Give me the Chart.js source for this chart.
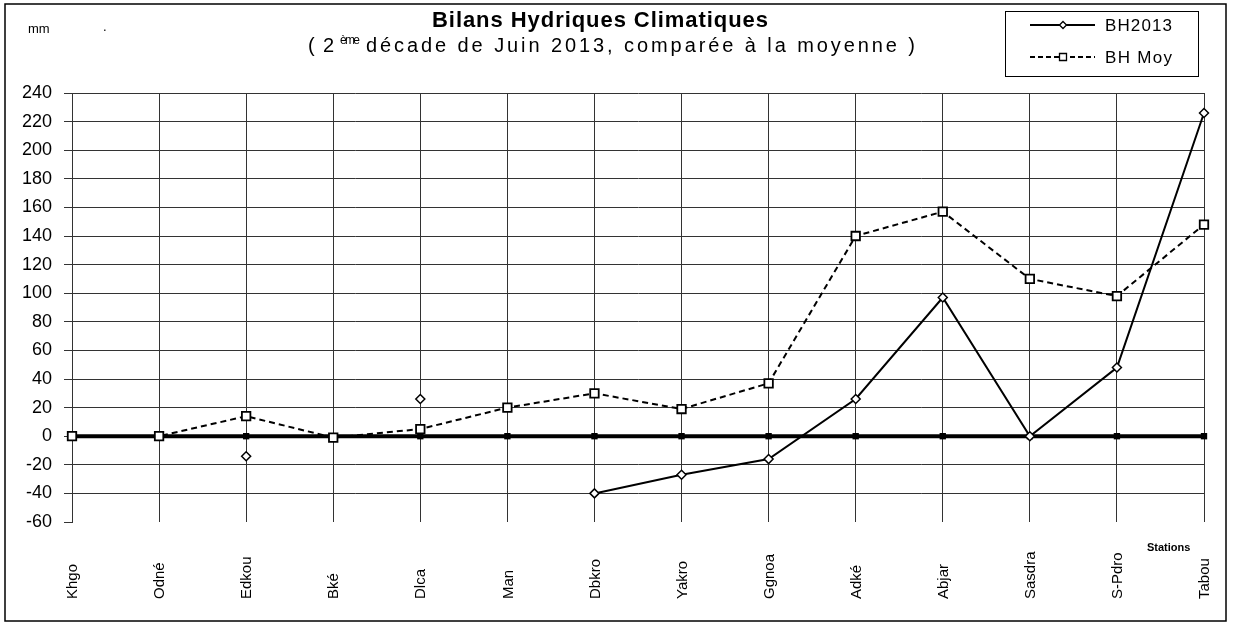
<!DOCTYPE html>
<html>
<head>
<meta charset="utf-8">
<script src="https://cdn.jsdelivr.net/npm/chart.js@4.4.1/dist/chart.umd.min.js"></script>
<style>
  html, body { margin: 0; padding: 0; background: #fff; }
  #wrap { width: 1233px; height: 624px; }
</style>
</head>
<body>
<div id="wrap"><canvas id="bh-chart" width="1233" height="624"></canvas></div>
<script>
// stations (abbreviations as printed on the chart)
const stations = ['Khgo', 'Odné', 'Edkou', 'Bké', 'Dlca', 'Man', 'Dbkro', 'Yakro', 'Ggnoa', 'Adké', 'Abjar', 'Sasdra', 'S-Pdro', 'Tabou'];

// bilan hydrique 2nd dekad June 2013 (mm), gaps where no point is plotted
const bh2013 = [null, null, -14, null, 26, null, -40, -27, -16, 26, 97, 0, 48, 226];

// average bilan hydrique (mm)
const bhMoy = [0, 0, 14, -1, 5, 20, 30, 19, 37, 140, 157, 110, 98, 148];

// zero reference line
const baseline = [0, 0, 0, 0, 0, 0, 0, 0, 0, 0, 0, 0, 0, 0];

const yTicks = { min: -60, max: 240, step: 20 };

const FONT = '"Liberation Sans", Arial, sans-serif';

// draw text stretched to a given width (the original has wide GDI spacing)
function fitText(ctx, txt, x, y, width) {
  const w = ctx.measureText(txt).width;
  const ls = (width - w) / Math.max(1, txt.length - 1);
  ctx.letterSpacing = ls + 'px';
  ctx.fillText(txt, x, y);
  ctx.letterSpacing = '0px';
}

const decorations = {
  id: 'decorations',
  afterDraw(chart) {
    const ctx = chart.ctx;
    const xs = chart.scales.x;
    ctx.save();
    ctx.fillStyle = '#000';
    ctx.textBaseline = 'middle';
    ctx.textAlign = 'left';

    // title
    ctx.font = 'bold 22px ' + FONT;
    fitText(ctx, 'Bilans Hydriques Climatiques', 432, 21, 336);

    // subtitle with superscript
    ctx.font = '20px ' + FONT;
    fitText(ctx, '( 2', 308, 46, 26);
    ctx.font = '12px ' + FONT;
    fitText(ctx, 'ème', 340, 41, 20);
    ctx.font = '20px ' + FONT;
    fitText(ctx, 'décade de Juin 2013, comparée à la moyenne )', 366, 46, 549);

    // unit
    ctx.font = '13px ' + FONT;
    ctx.fillText('mm', 28, 29);
    ctx.fillText('.', 103, 27);

    // axis title
    ctx.font = 'bold 11px "Liberation Sans Narrow", ' + FONT;
    ctx.fillText('Stations', 1147, 548);

    // rotated category labels, bottom aligned
    ctx.font = '15px ' + FONT;
    stations.forEach((s, i) => {
      const px = xs.getPixelForValue(i);
      ctx.save();
      ctx.translate(px + 1, 599);
      ctx.rotate(-Math.PI / 2);
      ctx.fillText(s, 0, 0);
      ctx.restore();
    });

    // legend box
    ctx.lineWidth = 1;
    ctx.strokeStyle = '#000';
    ctx.strokeRect(1005.5, 11.5, 193, 65);
    const rows = [
      { label: 'BH2013', y: 25, dash: [], style: 'diamond' },
      { label: 'BH Moy', y: 57, dash: [5, 3], style: 'square' }
    ];
    rows.forEach(r => {
      ctx.beginPath();
      ctx.setLineDash(r.dash);
      ctx.lineWidth = 2;
      ctx.moveTo(1030, r.y);
      ctx.lineTo(1095, r.y);
      ctx.stroke();
      ctx.setLineDash([]);
      ctx.lineWidth = 1.3;
      ctx.fillStyle = '#fff';
      ctx.beginPath();
      if (r.style === 'diamond') {
        ctx.moveTo(1063, r.y - 3.5); ctx.lineTo(1066.5, r.y);
        ctx.lineTo(1063, r.y + 3.5); ctx.lineTo(1059.5, r.y);
        ctx.closePath();
      } else {
        ctx.rect(1059.5, r.y - 3.5, 7, 7);
      }
      ctx.fill();
      ctx.stroke();
      ctx.fillStyle = '#000';
      ctx.font = '17px ' + FONT;
      fitText(ctx, r.label, 1105, r.y + 1, 67);
    });

    // outer frame
    ctx.lineWidth = 1.5;
    ctx.strokeRect(5, 4, 1221, 617);
    ctx.restore();
  }
};

new Chart(document.getElementById('bh-chart'), {
  type: 'line',
  data: {
    labels: stations,
    datasets: [
      {
        label: 'zero',
        data: baseline,
        borderColor: '#000',
        backgroundColor: '#000',
        borderWidth: 4,
        pointStyle: 'rect',
        pointRadius: 4.5,
        pointBorderWidth: 0,
        clip: false,
        order: 3
      },
      {
        label: 'BH Moy',
        data: bhMoy,
        borderColor: '#000',
        borderWidth: 2,
        borderDash: [6, 4],
        pointStyle: 'rect',
        pointRadius: 6,
        pointBackgroundColor: '#fff',
        pointBorderColor: '#000',
        pointBorderWidth: 1.8,
        tension: 0,
        clip: false,
        order: 2
      },
      {
        label: 'BH2013',
        data: bh2013,
        borderColor: '#000',
        borderWidth: 2,
        pointStyle: 'rectRot',
        pointRadius: 4.5,
        pointBackgroundColor: '#fff',
        pointBorderColor: '#000',
        pointBorderWidth: 1.5,
        spanGaps: false,
        tension: 0,
        clip: false,
        order: 1
      }
    ]
  },
  options: {
    responsive: false,
    animation: false,
    layout: { padding: { left: 0, right: 29, top: 93, bottom: 102 } },
    plugins: {
      legend: { display: false },
      title: { display: false },
      tooltip: { enabled: false }
    },
    scales: {
      x: {
        offset: false,
        ticks: { display: false },
        grid: { color: '#333', lineWidth: 1, drawTicks: false },
        border: { display: false },
        afterFit(scale) { scale.height = 0; }
      },
      y: {
        min: yTicks.min,
        max: yTicks.max,
        ticks: {
          stepSize: yTicks.step,
          color: '#000',
          font: { family: FONT, size: 18 },
          padding: 12
        },
        grid: {
          color: ctx => ctx.tick && ctx.tick.value === yTicks.min ? 'rgba(0,0,0,0)' : '#333',
          lineWidth: 1,
          tickLength: 8,
          tickColor: '#333'
        },
        border: { display: true, color: '#333', width: 1 },
        afterFit(scale) { scale.width = 72; }
      }
    }
  },
  plugins: [decorations]
});
</script>
</body>
</html>
